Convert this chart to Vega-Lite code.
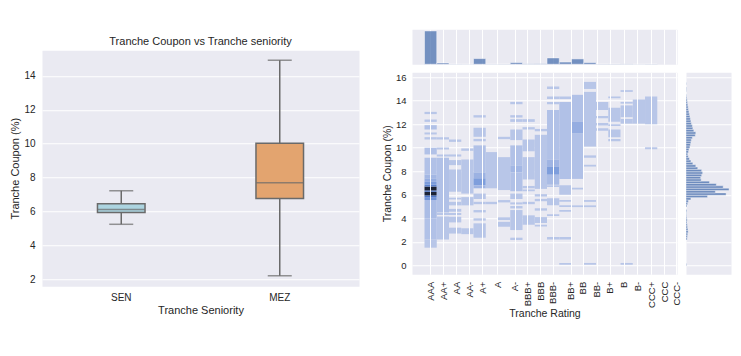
{
  "$schema": "https://vega.github.io/schema/vega-lite/v6.json",
  "padding": {"left": 9, "top": 21, "right": 5, "bottom": 5},
  "background": "white",
  "center": true,
  "spacing": 21,
  "config": {
    "font": "Liberation Sans",
    "view": {"stroke": "transparent", "fill": "#eaeaf2"},
    "axis": {
      "domain": false, "ticks": false, "tickSize": 0, "gridColor": "white", "gridWidth": 1,
      "labelColor": "#262626", "titleColor": "#262626", "titleFontWeight": "normal",
      "labelFont": "Liberation Sans", "titleFont": "Liberation Sans"
    }
  },
  "datasets": {
    "box": [
      {"s": "SEN", "lo": 5.24, "q1": 5.94, "med": 6.12, "q3": 6.46, "hi": 7.22},
      {"s": "MEZ", "lo": 2.2, "q1": 6.77, "med": 7.7, "q3": 10.03, "hi": 14.93}
    ],
    "heat": [
      {"c": 0, "y0": 12.86, "y1": 13.05, "n": 1}, {"c": 0, "y0": 12.2, "y1": 12.4, "n": 1},
      {"c": 0, "y0": 11.55, "y1": 11.92, "n": 2}, {"c": 0, "y0": 11.13, "y1": 11.3, "n": 1},
      {"c": 0, "y0": 10.7, "y1": 10.9, "n": 1}, {"c": 0, "y0": 9.43, "y1": 10.0, "n": 2},
      {"c": 0, "y0": 1.5, "y1": 2.2, "n": 1}, {"c": 0, "y0": 2.2, "y1": 4.0, "n": 2},
      {"c": 0, "y0": 4.0, "y1": 5.55, "n": 3}, {"c": 0, "y0": 5.55, "y1": 5.8, "n": 20},
      {"c": 0, "y0": 5.8, "y1": 5.95, "n": 35}, {"c": 0, "y0": 5.95, "y1": 6.25, "n": 60},
      {"c": 0, "y0": 6.25, "y1": 6.37, "n": 35}, {"c": 0, "y0": 6.37, "y1": 6.7, "n": 60},
      {"c": 0, "y0": 6.7, "y1": 6.85, "n": 30}, {"c": 0, "y0": 6.85, "y1": 7.1, "n": 15},
      {"c": 0, "y0": 7.1, "y1": 7.4, "n": 8}, {"c": 0, "y0": 7.4, "y1": 7.7, "n": 4},
      {"c": 0, "y0": 7.7, "y1": 9.15, "n": 2},
      {"c": 1, "y0": 10.7, "y1": 10.9, "n": 1}, {"c": 1, "y0": 9.85, "y1": 10.03, "n": 1},
      {"c": 1, "y0": 9.25, "y1": 9.43, "n": 1}, {"c": 1, "y0": 4.5, "y1": 9.15, "n": 2},
      {"c": 1, "y0": 4.28, "y1": 4.45, "n": 1}, {"c": 1, "y0": 2.2, "y1": 4.15, "n": 1},
      {"c": 2, "y0": 10.5, "y1": 10.7, "n": 1}, {"c": 2, "y0": 9.25, "y1": 9.43, "n": 1},
      {"c": 2, "y0": 8.52, "y1": 8.95, "n": 1}, {"c": 2, "y0": 6.26, "y1": 8.15, "n": 1},
      {"c": 2, "y0": 5.6, "y1": 5.75, "n": 1}, {"c": 2, "y0": 5.1, "y1": 5.4, "n": 1},
      {"c": 2, "y0": 4.56, "y1": 4.8, "n": 1}, {"c": 2, "y0": 4.28, "y1": 4.45, "n": 1},
      {"c": 2, "y0": 3.65, "y1": 4.13, "n": 1}, {"c": 2, "y0": 2.7, "y1": 3.2, "n": 1},
      {"c": 3, "y0": 9.74, "y1": 9.94, "n": 1}, {"c": 3, "y0": 6.1, "y1": 9.0, "n": 1},
      {"c": 3, "y0": 5.1, "y1": 5.8, "n": 1}, {"c": 3, "y0": 2.65, "y1": 3.15, "n": 1},
      {"c": 4, "y0": 12.57, "y1": 12.77, "n": 1}, {"c": 4, "y0": 10.93, "y1": 11.7, "n": 1},
      {"c": 4, "y0": 10.55, "y1": 10.75, "n": 1}, {"c": 4, "y0": 7.9, "y1": 10.2, "n": 2},
      {"c": 4, "y0": 7.4, "y1": 7.9, "n": 6}, {"c": 4, "y0": 6.8, "y1": 7.4, "n": 14},
      {"c": 4, "y0": 6.55, "y1": 6.8, "n": 5}, {"c": 4, "y0": 5.64, "y1": 6.1, "n": 1},
      {"c": 4, "y0": 5.2, "y1": 5.4, "n": 1}, {"c": 4, "y0": 4.5, "y1": 4.7, "n": 1},
      {"c": 4, "y0": 3.8, "y1": 4.0, "n": 1}, {"c": 4, "y0": 2.35, "y1": 3.57, "n": 1},
      {"c": 5, "y0": 6.55, "y1": 9.63, "n": 1}, {"c": 5, "y0": 5.2, "y1": 5.4, "n": 1},
      {"c": 6, "y0": 10.73, "y1": 10.93, "n": 1}, {"c": 6, "y0": 6.4, "y1": 9.2, "n": 1},
      {"c": 6, "y0": 5.35, "y1": 5.55, "n": 1}, {"c": 6, "y0": 3.85, "y1": 4.08, "n": 1},
      {"c": 6, "y0": 3.28, "y1": 3.7, "n": 1},
      {"c": 7, "y0": 13.7, "y1": 13.9, "n": 1}, {"c": 7, "y0": 12.57, "y1": 12.77, "n": 1},
      {"c": 7, "y0": 12.2, "y1": 12.43, "n": 1}, {"c": 7, "y0": 10.65, "y1": 11.55, "n": 1},
      {"c": 7, "y0": 8.5, "y1": 10.2, "n": 2}, {"c": 7, "y0": 7.9, "y1": 8.5, "n": 4},
      {"c": 7, "y0": 6.3, "y1": 7.9, "n": 2}, {"c": 7, "y0": 5.64, "y1": 6.1, "n": 1},
      {"c": 7, "y0": 5.18, "y1": 5.35, "n": 1}, {"c": 7, "y0": 4.84, "y1": 5.04, "n": 1},
      {"c": 7, "y0": 3.0, "y1": 4.7, "n": 1}, {"c": 7, "y0": 2.15, "y1": 2.35, "n": 1},
      {"c": 8, "y0": 12.2, "y1": 12.43, "n": 1}, {"c": 8, "y0": 11.55, "y1": 11.75, "n": 1},
      {"c": 8, "y0": 9.7, "y1": 10.7, "n": 1}, {"c": 8, "y0": 7.3, "y1": 9.2, "n": 1},
      {"c": 8, "y0": 6.55, "y1": 6.75, "n": 1}, {"c": 8, "y0": 6.3, "y1": 6.45, "n": 1},
      {"c": 8, "y0": 5.2, "y1": 5.4, "n": 1}, {"c": 8, "y0": 3.45, "y1": 4.25, "n": 1},
      {"c": 9, "y0": 11.4, "y1": 11.6, "n": 1}, {"c": 9, "y0": 6.5, "y1": 11.1, "n": 1},
      {"c": 9, "y0": 5.85, "y1": 6.05, "n": 1}, {"c": 9, "y0": 5.45, "y1": 5.65, "n": 1},
      {"c": 9, "y0": 4.65, "y1": 4.85, "n": 1}, {"c": 9, "y0": 3.6, "y1": 4.1, "n": 1},
      {"c": 9, "y0": 3.3, "y1": 3.45, "n": 1},
      {"c": 10, "y0": 15.0, "y1": 15.2, "n": 1}, {"c": 10, "y0": 14.15, "y1": 14.35, "n": 1},
      {"c": 10, "y0": 13.7, "y1": 13.9, "n": 1}, {"c": 10, "y0": 9.0, "y1": 13.2, "n": 2},
      {"c": 10, "y0": 8.4, "y1": 9.0, "n": 5}, {"c": 10, "y0": 7.7, "y1": 8.4, "n": 14},
      {"c": 10, "y0": 6.85, "y1": 7.7, "n": 3}, {"c": 10, "y0": 6.65, "y1": 6.8, "n": 1},
      {"c": 10, "y0": 5.1, "y1": 5.7, "n": 1}, {"c": 10, "y0": 4.2, "y1": 4.35, "n": 1},
      {"c": 10, "y0": 2.2, "y1": 2.4, "n": 1},
      {"c": 11, "y0": 14.15, "y1": 14.35, "n": 1}, {"c": 11, "y0": 7.35, "y1": 13.9, "n": 2},
      {"c": 11, "y0": 6.0, "y1": 6.8, "n": 1}, {"c": 11, "y0": 5.4, "y1": 5.55, "n": 1},
      {"c": 11, "y0": 4.95, "y1": 5.1, "n": 1}, {"c": 11, "y0": 4.55, "y1": 4.7, "n": 1},
      {"c": 11, "y0": 2.2, "y1": 2.4, "n": 1}, {"c": 11, "y0": 0.05, "y1": 0.2, "n": 1},
      {"c": 12, "y0": 12.2, "y1": 14.5, "n": 2}, {"c": 12, "y0": 11.2, "y1": 12.2, "n": 8},
      {"c": 12, "y0": 7.35, "y1": 11.2, "n": 2}, {"c": 12, "y0": 6.45, "y1": 6.6, "n": 1},
      {"c": 12, "y0": 4.95, "y1": 5.1, "n": 1},
      {"c": 13, "y0": 15.0, "y1": 15.6, "n": 1}, {"c": 13, "y0": 10.1, "y1": 14.75, "n": 1},
      {"c": 13, "y0": 9.15, "y1": 9.35, "n": 1}, {"c": 13, "y0": 8.4, "y1": 8.55, "n": 1},
      {"c": 13, "y0": 5.4, "y1": 5.55, "n": 1}, {"c": 13, "y0": 4.95, "y1": 5.1, "n": 1},
      {"c": 13, "y0": 0.05, "y1": 0.2, "n": 1},
      {"c": 14, "y0": 13.2, "y1": 13.9, "n": 1}, {"c": 14, "y0": 12.5, "y1": 12.7, "n": 1},
      {"c": 14, "y0": 11.9, "y1": 12.1, "n": 1}, {"c": 14, "y0": 11.45, "y1": 11.65, "n": 1},
      {"c": 15, "y0": 14.2, "y1": 14.35, "n": 1}, {"c": 15, "y0": 12.2, "y1": 13.4, "n": 1},
      {"c": 15, "y0": 11.85, "y1": 12.0, "n": 1}, {"c": 15, "y0": 10.9, "y1": 11.55, "n": 1},
      {"c": 15, "y0": 10.55, "y1": 10.75, "n": 1},
      {"c": 16, "y0": 14.75, "y1": 14.9, "n": 1}, {"c": 16, "y0": 13.75, "y1": 13.9, "n": 1},
      {"c": 16, "y0": 12.6, "y1": 13.6, "n": 1}, {"c": 16, "y0": 12.05, "y1": 12.45, "n": 1},
      {"c": 16, "y0": 0.05, "y1": 0.2, "n": 1},
      {"c": 17, "y0": 12.05, "y1": 14.1, "n": 1},
      {"c": 18, "y0": 12.0, "y1": 14.35, "n": 1}, {"c": 18, "y0": 9.88, "y1": 10.05, "n": 1}
    ],
    "topm": [
      {"c": 0, "n": 100}, {"c": 1, "n": 4}, {"c": 2, "n": 0.6}, {"c": 3, "n": 0.5},
      {"c": 4, "n": 17}, {"c": 5, "n": 0.6}, {"c": 6, "n": 0.7}, {"c": 7, "n": 5},
      {"c": 8, "n": 1.2}, {"c": 9, "n": 1.5}, {"c": 10, "n": 19}, {"c": 11, "n": 6.5},
      {"c": 12, "n": 16}, {"c": 13, "n": 5}, {"c": 14, "n": 0.8}, {"c": 15, "n": 1},
      {"c": 16, "n": 1}, {"c": 17, "n": 0.5}, {"c": 18, "n": 0.7}
    ],
    "rightm": [
      {"y": 0.0, "n": 0.6}, {"y": 2.2, "n": 1.2}, {"y": 2.4, "n": 1.5}, {"y": 2.6, "n": 1.8},
      {"y": 2.8, "n": 2.2}, {"y": 3.0, "n": 2.0}, {"y": 3.2, "n": 1.6}, {"y": 3.4, "n": 1.3},
      {"y": 3.6, "n": 1.0}, {"y": 3.8, "n": 1.2}, {"y": 4.0, "n": 0.8}, {"y": 4.2, "n": 0.6},
      {"y": 4.4, "n": 0.5}, {"y": 4.6, "n": 0.8}, {"y": 5.0, "n": 1.0}, {"y": 5.2, "n": 1.7},
      {"y": 5.4, "n": 2.5}, {"y": 5.6, "n": 5}, {"y": 5.8, "n": 22}, {"y": 6.0, "n": 41},
      {"y": 6.2, "n": 30}, {"y": 6.4, "n": 44}, {"y": 6.6, "n": 38}, {"y": 6.8, "n": 31},
      {"y": 7.0, "n": 24}, {"y": 7.2, "n": 15.5}, {"y": 7.4, "n": 15}, {"y": 7.6, "n": 16},
      {"y": 7.8, "n": 17}, {"y": 8.0, "n": 16}, {"y": 8.2, "n": 12}, {"y": 8.4, "n": 10},
      {"y": 8.6, "n": 7}, {"y": 8.8, "n": 5}, {"y": 9.0, "n": 3.5}, {"y": 9.2, "n": 2.3},
      {"y": 9.4, "n": 1.8}, {"y": 9.6, "n": 2.5}, {"y": 9.8, "n": 3}, {"y": 10.0, "n": 4},
      {"y": 10.2, "n": 4.5}, {"y": 10.4, "n": 5}, {"y": 10.6, "n": 5.5}, {"y": 10.8, "n": 6.5},
      {"y": 11.0, "n": 9.5}, {"y": 11.2, "n": 10}, {"y": 11.4, "n": 8}, {"y": 11.6, "n": 7},
      {"y": 11.8, "n": 6.5}, {"y": 12.0, "n": 5.5}, {"y": 12.2, "n": 5}, {"y": 12.4, "n": 4.5},
      {"y": 12.6, "n": 4}, {"y": 12.8, "n": 3.5}, {"y": 13.0, "n": 3}, {"y": 13.2, "n": 2.5},
      {"y": 13.4, "n": 2.2}, {"y": 13.6, "n": 1.8}, {"y": 13.8, "n": 1.5}, {"y": 14.0, "n": 1.2},
      {"y": 14.2, "n": 0.8}, {"y": 14.4, "n": 0.5}, {"y": 14.8, "n": 0.4}, {"y": 15.0, "n": 0.5},
      {"y": 15.4, "n": 0.4}
    ]
  },
  "hconcat": [
    {
      "title": {"text": ["", "Tranche Coupon vs Tranche seniority"], "lineHeight": 14, "fontSize": 11, "fontWeight": "normal", "color": "#262626", "offset": 3, "font": "Liberation Sans"},
      "width": 317,
      "height": 236,
      "data": {"name": "box"},
      "encoding": {
        "x": {
          "field": "s", "type": "nominal", "sort": ["SEN", "MEZ"],
          "scale": {"paddingInner": 0, "paddingOuter": 0},
          "axis": {"title": "Tranche Seniority", "labelAngle": 0, "labelFontSize": 10, "titleFontSize": 11, "labelPadding": 6, "titlePadding": 2, "grid": false}
        }
      },
      "layer": [
        {
          "mark": {"type": "rule", "color": "#6a6a6a", "strokeWidth": 1.5},
          "encoding": {
            "y": {
              "field": "lo", "type": "quantitative", "title": "Tranche Coupon (%)",
              "scale": {"domain": [1.58, 15.52], "nice": false, "zero": false},
              "axis": {"values": [2, 4, 6, 8, 10, 12, 14], "labelFontSize": 10, "titleFontSize": 11, "labelPadding": 7, "titlePadding": 3, "grid": true, "labelOverlap": false}
            },
            "y2": {"field": "hi"}
          }
        },
        {
          "mark": {"type": "bar", "width": {"band": 0.3}, "stroke": "#6a6a6a", "strokeWidth": 1.5},
          "encoding": {
            "y": {"field": "q1", "type": "quantitative", "title": "Tranche Coupon (%)",
              "axis": {"values": [2, 4, 6, 8, 10, 12, 14], "labelFontSize": 10, "titleFontSize": 11, "labelPadding": 7, "titlePadding": 3, "grid": true, "labelOverlap": false}},
            "y2": {"field": "q3"},
            "color": {"field": "s", "type": "nominal", "scale": {"domain": ["SEN", "MEZ"], "range": ["#acd4e0", "#e3a46f"]}, "legend": null}
          }
        },
        {
          "mark": {"type": "tick", "color": "#6a6a6a", "size": 47, "thickness": 1.5},
          "encoding": {"y": {"field": "med", "type": "quantitative", "title": "Tranche Coupon (%)",
            "axis": {"values": [2, 4, 6, 8, 10, 12, 14], "labelFontSize": 10, "titleFontSize": 11, "labelPadding": 7, "titlePadding": 3, "grid": true, "labelOverlap": false}}}
        },
        {
          "mark": {"type": "tick", "color": "#6a6a6a", "size": 24, "thickness": 1.5},
          "encoding": {"y": {"field": "lo", "type": "quantitative", "title": "Tranche Coupon (%)",
            "axis": {"values": [2, 4, 6, 8, 10, 12, 14], "labelFontSize": 10, "titleFontSize": 11, "labelPadding": 7, "titlePadding": 3, "grid": true, "labelOverlap": false}}}
        },
        {
          "mark": {"type": "tick", "color": "#6a6a6a", "size": 24, "thickness": 1.5},
          "encoding": {"y": {"field": "hi", "type": "quantitative", "title": "Tranche Coupon (%)",
            "axis": {"values": [2, 4, 6, 8, 10, 12, 14], "labelFontSize": 10, "titleFontSize": 11, "labelPadding": 7, "titlePadding": 3, "grid": true, "labelOverlap": false}}}
        }
      ]
    },
    {
      "spacing": 6,
      "vconcat": [
        {
          "width": 265,
          "height": 35,
          "data": {"name": "topm"},
          "mark": {"type": "bar", "color": "#4c72b0", "opacity": 0.75, "binSpacing": 0, "stroke": "white", "strokeWidth": 0.5},
          "encoding": {
            "x": {
              "field": "c", "type": "quantitative", "bin": {"binned": true, "step": 1},
              "scale": {"domain": [-0.98, 20.65], "nice": false, "zero": false},
              "axis": {"values": [0.53, 1.58, 2.63, 3.69, 4.75, 5.97, 7.39, 8.42, 9.47, 10.49, 11.97, 12.94, 14.12, 15.18, 16.3, 17.41, 18.53, 19.6, 20.6], "labels": false, "title": null, "grid": true}
            },
            "y": {"field": "n", "type": "quantitative", "scale": {"domain": [0, 105], "nice": false}, "axis": null}
          }
        },
        {
          "spacing": 9,
          "bounds": "flush",
          "hconcat": [
            {
              "width": 265,
              "height": 202,
              "data": {"name": "heat"},
              "mark": {"type": "rect", "binSpacing": 0},
              "encoding": {
                "x": {
                  "field": "c", "type": "quantitative", "bin": {"binned": true, "step": 1},
                  "scale": {"domain": [-0.98, 20.65], "nice": false, "zero": false},
                  "axis": {
                    "values": [0.53, 1.58, 2.63, 3.69, 4.75, 5.97, 7.39, 8.42, 9.47, 10.49, 11.97, 12.94, 14.12, 15.18, 16.3, 17.41, 18.53, 19.6, 20.6],
                    "labelExpr": "['AAA','AA+','AA','AA-','A+','A','A-','BBB+','BBB','BBB-','BB+','BB','BB-','B+','B','B-','CCC+','CCC','CCC-'][indexof([0.53,1.58,2.63,3.69,4.75,5.97,7.39,8.42,9.47,10.49,11.97,12.94,14.12,15.18,16.3,17.41,18.53,19.6,20.6], datum.value)]",
                    "labelAngle": -90, "labelFontSize": 9.5, "titleFontSize": 10.5, "labelPadding": 7, "titlePadding": 1,
                    "title": "Tranche Rating", "grid": true, "labelOverlap": false, "labelBound": false
                  }
                },
                "y": {
                  "field": "y0", "type": "quantitative",
                  "scale": {"domain": [-0.76, 16.42], "nice": false, "zero": false},
                  "axis": {"values": [0, 2, 4, 6, 8, 10, 12, 14, 16], "labelFontSize": 9.5, "titleFontSize": 10.5, "labelPadding": 6, "titlePadding": 3, "title": "Tranche Coupon (%)", "grid": true}
                },
                "y2": {"field": "y1"},
                "color": {
                  "field": "n", "type": "quantitative",
                  "scale": {"domain": [1, 4, 14, 35, 60], "range": ["#b8c6e8", "#a3b7e4", "#7e9edc", "#4f77c8", "#1c2335"]},
                  "legend": null
                }
              }
            },
            {
              "width": 45,
              "height": 202,
              "data": {"name": "rightm"},
              "mark": {"type": "bar", "color": "#4c72b0", "opacity": 0.78, "binSpacing": 0, "stroke": "white", "strokeWidth": 0.4},
              "encoding": {
                "y": {
                  "field": "y", "type": "quantitative", "bin": {"binned": true, "step": 0.2},
                  "scale": {"domain": [-0.76, 16.42], "nice": false, "zero": false},
                  "axis": {"values": [0, 2, 4, 6, 8, 10, 12, 14, 16], "labels": false, "title": null, "grid": true}
                },
                "x": {"field": "n", "type": "quantitative", "scale": {"domain": [0, 46], "nice": false},
                  "axis": {"labels": false, "grid": false, "title": " ", "titleFontSize": 11, "titlePadding": 51}}
              }
            }
          ]
        }
      ]
    }
  ]
}
